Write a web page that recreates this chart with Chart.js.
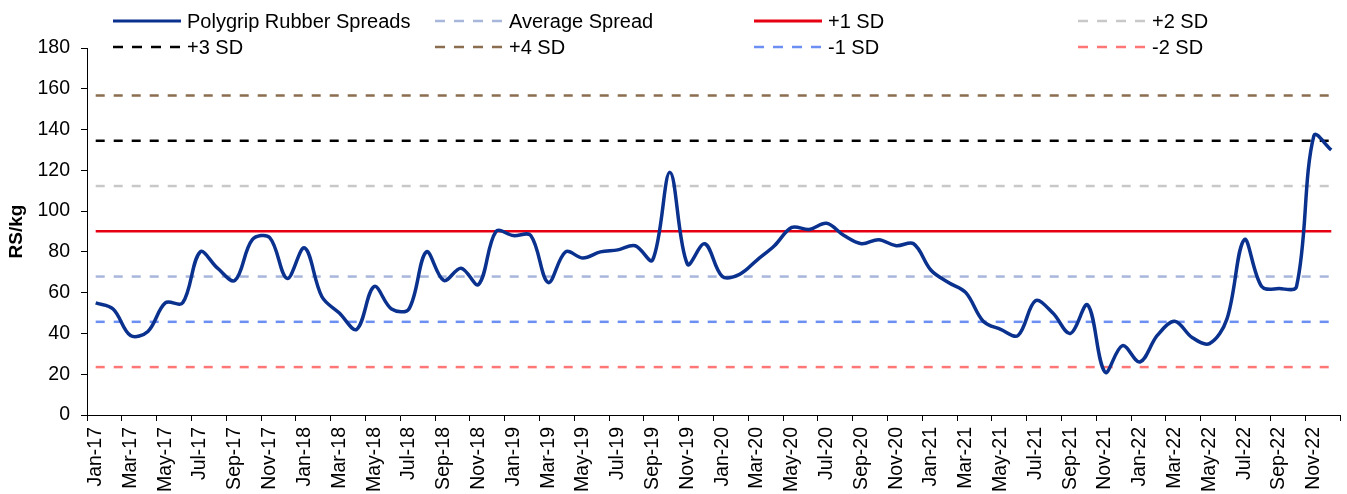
<!DOCTYPE html>
<html><head><meta charset="utf-8">
<script src="https://cdn.jsdelivr.net/npm/chart.js@4/dist/chart.umd.min.js"></script>
<style>
html,body{margin:0;padding:0;background:#fff;}
#wrap{position:relative;width:1347px;height:494px;font-family:"Liberation Sans",Arial,sans-serif;overflow:hidden;}
canvas{position:absolute;left:0;top:0;}
.lg{position:absolute;display:flex;align-items:center;height:24px;font-size:20px;color:#000;white-space:nowrap;}
.lg svg{margin-right:6px;flex:none;}
</style></head><body>
<div id="wrap"><canvas id="c" width="1347" height="494"></canvas></div>
<script>
const months = [
  'Jan-17','Feb-17','Mar-17','Apr-17','May-17','Jun-17','Jul-17','Aug-17','Sep-17','Oct-17','Nov-17','Dec-17',
  'Jan-18','Feb-18','Mar-18','Apr-18','May-18','Jun-18','Jul-18','Aug-18','Sep-18','Oct-18','Nov-18','Dec-18',
  'Jan-19','Feb-19','Mar-19','Apr-19','May-19','Jun-19','Jul-19','Aug-19','Sep-19','Oct-19','Nov-19','Dec-19',
  'Jan-20','Feb-20','Mar-20','Apr-20','May-20','Jun-20','Jul-20','Aug-20','Sep-20','Oct-20','Nov-20','Dec-20',
  'Jan-21','Feb-21','Mar-21','Apr-21','May-21','Jun-21','Jul-21','Aug-21','Sep-21','Oct-21','Nov-21','Dec-21',
  'Jan-22','Feb-22','Mar-22','Apr-22','May-22','Jun-22','Jul-22','Aug-22','Sep-22','Oct-22','Nov-22','Dec-22'
];
const spreads = [
  55, 52, 39, 41, 55, 55, 80, 72, 66, 86, 87, 67,
  82, 58, 50, 42, 63, 52, 52, 80, 66, 72, 64, 90,
  88, 88, 65, 80, 77, 80, 81, 83, 76, 119, 74, 84,
  68, 69, 76, 83, 92, 91, 94, 88, 84, 86, 83, 84,
  71, 65, 60, 46, 42, 39, 56, 50, 40, 54, 21, 34,
  26, 39, 46, 38, 35, 47, 86, 63, 62, 63, 137, 130
];
const averageSpread = 67.9;
const plus1SD = 90.1;
const plus2SD = 112.3;
const plus3SD = 134.5;
const plus4SD = 156.7;
const minus1SD = 45.7;
const minus2SD = 23.5;
const yTicks = [0, 20, 40, 60, 80, 100, 120, 140, 160, 180];

const first = months[0], last = months[months.length - 1];
function level(v) { return [{x: first, y: v}, {x: last, y: v}]; }

const series = [
  {label: 'Polygrip Rubber Spreads', data: spreads, color: '#0a318e', dash: [], width: 3.5},
  {label: 'Average Spread', data: level(averageSpread), color: '#a9b6dc', dash: [9, 9], width: 2.5},
  {label: '+1 SD', data: level(plus1SD), color: '#e60012', dash: [], width: 2.5},
  {label: '+2 SD', data: level(plus2SD), color: '#c8c8c8', dash: [9, 9], width: 2.5},
  {label: '+3 SD', data: level(plus3SD), color: '#000000', dash: [9, 9], width: 2.5},
  {label: '+4 SD', data: level(plus4SD), color: '#8b6d4f', dash: [9, 9], width: 2.5},
  {label: '-1 SD', data: level(minus1SD), color: '#6b8ff2', dash: [9, 9], width: 2.5},
  {label: '-2 SD', data: level(minus2SD), color: '#ff7676', dash: [9, 9], width: 2.5}
];

const FONT = '"Liberation Sans", Arial, sans-serif';

new Chart(document.getElementById('c'), {
  type: 'line',
  data: {
    labels: months,
    datasets: series.map(s => ({
      label: s.label,
      data: s.data,
      borderColor: s.color,
      backgroundColor: s.color,
      borderDash: s.dash,
      borderWidth: s.width,
      pointRadius: 0,
      fill: false,
      tension: s.data === spreads ? 0.35 : 0
    }))
  },
  options: {
    responsive: false,
    animation: false,
    devicePixelRatio: 1,
    layout: {padding: {top: 48, right: 7, bottom: 0, left: 0}},
    plugins: {legend: {display: false}, tooltip: {enabled: false}},
    scales: {
      x: {
        type: 'category',
        offset: true,
        grid: {
          offset: true,
          drawOnChartArea: false,
          drawTicks: true,
          tickLength: 6,
          tickWidth: 1,
          tickColor: ctx => (ctx.index === undefined || ctx.index % 2 === 0) ? '#000' : 'rgba(0,0,0,0)'
        },
        border: {display: true, color: '#000', width: 1},
        ticks: {
          autoSkip: false,
          maxRotation: 90,
          minRotation: 90,
          padding: 6,
          color: '#000',
          font: {family: FONT, size: 19.5},
          callback: (v, i) => (i % 2 === 0 ? months[i] : '')
        },
        afterFit: s => { s.height = 79; s.paddingLeft = 0; s.paddingRight = 0; }
      },
      y: {
        min: 0,
        max: 180,
        afterBuildTicks: s => { s.ticks = yTicks.map(v => ({value: v})); },
        grid: {drawOnChartArea: false, drawTicks: true, tickLength: 6, tickColor: '#000'},
        border: {display: true, color: '#000', width: 1},
        ticks: {padding: 11, color: '#000', font: {family: FONT, size: 19.5}},
        title: {
          display: true,
          text: 'RS/kg',
          color: '#000',
          font: {family: FONT, size: 19, weight: 'bold'},
          padding: {top: 5, bottom: 0}
        },
        afterFit: s => { s.width = 87; }
      }
    }
  }
});

// legend (4 columns x 2 rows)
const colX = [113, 435, 754, 1078];
const rowY = [9, 35];
const wrap = document.getElementById('wrap');
series.forEach((s, i) => {
  const d = document.createElement('div');
  d.className = 'lg';
  d.style.left = colX[i % 4] + 'px';
  d.style.top = rowY[Math.floor(i / 4)] + 'px';
  const dash = s.dash.length ? 'stroke-dasharray="10 9"' : '';
  d.innerHTML = '<svg width="68" height="6"><line x1="0" y1="3" x2="68" y2="3" stroke="' + s.color +
    '" stroke-width="' + (s.dash.length ? 2.5 : 3) + '" ' + dash + '/></svg><span>' + s.label + '</span>';
  wrap.appendChild(d);
});
</script>
</body></html>
